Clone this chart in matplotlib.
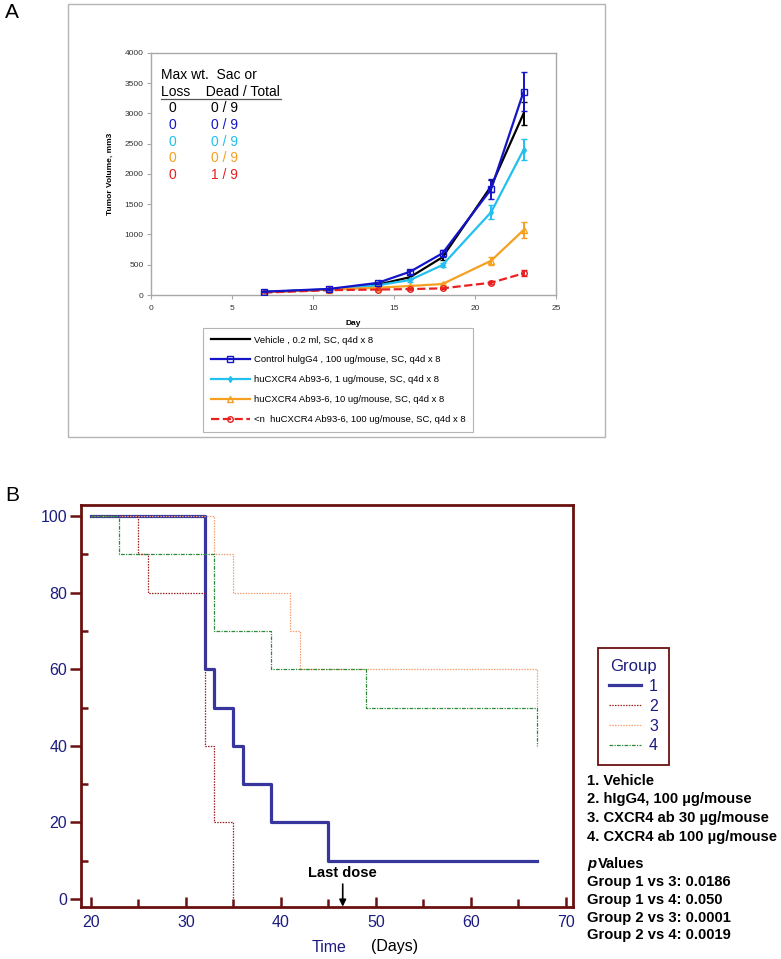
import matplotlib
matplotlib.use("Agg")
import matplotlib.pyplot as plt
from matplotlib.patches import Rectangle
from matplotlib.lines import Line2D
from matplotlib.ticker import MultipleLocator

plt.rcParams['font.family'] = ['Liberation Sans', 'DejaVu Sans']

# ---------------- Panel A data ----------------
days = [7, 11, 14, 16, 18, 21, 23]
vehicle = [50, 90, 170, 295, 625, 1800, 3000]
vehicle_err = [5, 10, 15, 30, 50, 100, 190]
control = [55, 100, 200, 385, 690, 1750, 3360]
control_err = [5, 10, 20, 35, 55, 160, 320]
ab1 = [50, 95, 160, 248, 496, 1370, 2400]
ab1_err = [5, 10, 15, 25, 40, 110, 175]
ab10 = [45, 90, 120, 149, 182, 567, 1074]
ab10_err = [5, 8, 10, 15, 20, 65, 125]
ab100 = [40, 80, 90, 98, 110, 203, 358]
ab100_err = [4, 8, 8, 10, 10, 25, 50]
labels_a = ["Vehicle , 0.2 ml, SC, q4d x 8",
            "Control hulgG4 , 100 ug/mouse, SC, q4d x 8",
            "huCXCR4 Ab93-6, 1 ug/mouse, SC, q4d x 8",
            "huCXCR4 Ab93-6, 10 ug/mouse, SC, q4d x 8",
            "<n  huCXCR4 Ab93-6, 100 ug/mouse, SC, q4d x 8"]
max_wt_loss = ["0", "0", "0", "0", "0"]
sac_dead = ["0 / 9", "0 / 9", "0 / 9", "0 / 9", "1 / 9"]

# ---------------- Panel B data ----------------
g1_t = [20, 32, 33, 35, 36, 39, 45, 67]
g1_s = [100, 60, 50, 40, 30, 20, 10, 10]
g2_t = [20, 25, 26, 32, 33, 35]
g2_s = [100, 90, 80, 40, 20, 0]
g3_t = [20, 33, 35, 41, 42, 67]
g3_s = [100, 90, 80, 70, 60, 50]
g4_t = [20, 23, 33, 39, 49, 67]
g4_s = [100, 90, 70, 60, 50, 40]
group_names = ["1", "2", "3", "4"]
group_desc = ["1. Vehicle", "2. hIgG4, 100 \u00b5g/mouse",
              "3. CXCR4 ab 30 \u00b5g/mouse", "4. CXCR4 ab 100 \u00b5g/mouse"]
pvals = ["Group 1 vs 3: 0.0186", "Group 1 vs 4: 0.050",
         "Group 2 vs 3: 0.0001", "Group 2 vs 4: 0.0019"]
last_dose_day = 46.5

W, H = 781, 959
fig = plt.figure(figsize=(W / 100, H / 100), dpi=100)


def fx(x):
    return x / W


def fy(y):
    return 1 - y / H


# ================= Panel A =================
fig.patches.append(Rectangle((fx(68), fy(437)), (605 - 68) / W, (437 - 4) / H,
                             transform=fig.transFigure, fill=False,
                             edgecolor='#b4b4b4', lw=1.0))
fig.text(fx(5), fy(13), "A", fontsize=15, va='center', ha='left')

axA = fig.add_axes([fx(150.7), fy(295), (556 - 150.7) / W, (295 - 53) / H])
axA.set_xlim(0, 25)
axA.set_ylim(0, 4000)
for s in axA.spines.values():
    s.set_color('#a8a8a8')
    s.set_linewidth(1.0)
axA.xaxis.set_major_locator(MultipleLocator(5))
axA.yaxis.set_major_locator(MultipleLocator(500))
axA.tick_params(axis='both', labelsize=6, color='#a8a8a8', length=3,
                width=0.8, labelcolor='#333333', pad=2)
axA.tick_params(axis='x', pad=4)
axA.set_xlabel("Day", fontsize=6, fontweight='bold', labelpad=6)
axA.set_ylabel("Tumor Volume, mm3", fontsize=6, fontweight='bold', labelpad=8)

colsA = ['#000000', '#1414c8', '#22c0f0', '#f5a020', '#e82020']
series = [(vehicle, vehicle_err), (control, control_err), (ab1, ab1_err),
          (ab10, ab10_err), (ab100, ab100_err)]
markers = [None, 's', 'd', '^', 'o']
mfcs = ['none', 'none', colsA[2], 'none', 'none']
styles = ['-', '-', '-', '-', '--']
handles = []
for i, ((vals, err), c) in enumerate(zip(series, colsA)):
    axA.errorbar(days, vals, yerr=err, color=c, lw=1.6, ls=styles[i],
                 marker=markers[i], ms=4 if i != 2 else 3,
                 mfc=mfcs[i], mec=c, mew=1.0, capsize=2.5, elinewidth=1.4,
                 capthick=1.2, zorder=3 + (1 if i == 1 else 0))
    handles.append(Line2D([], [], color=c, lw=1.6, ls=styles[i], marker=markers[i],
                          ms=4 if i != 2 else 3, mfc=mfcs[i], mec=c))

# Max wt loss table
fig.text(fx(161), fy(75), "Max wt.  Sac or", fontsize=10, va='center', ha='left')
fig.text(fx(161), fy(91.7), "Loss    Dead / Total", fontsize=10, va='center', ha='left')
fig.add_artist(Line2D([fx(161), fx(281)], [fy(98.5), fy(98.5)], color='#555555', lw=0.9))
for i, (a, b) in enumerate(zip(max_wt_loss, sac_dead)):
    yy = 108.3 + i * 16.7
    fig.text(fx(172), fy(yy), a, fontsize=10, color=colsA[i], ha='center', va='center')
    fig.text(fx(224.5), fy(yy), b, fontsize=10, color=colsA[i], ha='center', va='center')

legA = fig.legend(handles, labels_a, loc='upper left',
                  bbox_to_anchor=(fx(203), fy(328)), borderaxespad=0,
                  fontsize=6.8, handlelength=4.2, labelspacing=1.15, borderpad=0.8,
                  handletextpad=0.4, fancybox=False, edgecolor='#b4b4b4',
                  framealpha=1)
legA.get_frame().set_linewidth(0.8)

# ================= Panel B =================
fig.text(fx(5), fy(495), "B", fontsize=15, va='center', ha='left')
frame_c = '#6b1010'
navy = '#1c1c80'
axB = fig.add_axes([fx(81), fy(907), 492 / W, 402 / H])
axB.set_xlim(18.95, 70.74)
axB.set_ylim(-2.09, 102.9)
for s in axB.spines.values():
    s.set_color(frame_c)
    s.set_linewidth(2.0)
axB.xaxis.set_major_locator(MultipleLocator(10))
axB.xaxis.set_minor_locator(MultipleLocator(5))
axB.yaxis.set_major_locator(MultipleLocator(20))
axB.yaxis.set_minor_locator(MultipleLocator(10))
axB.tick_params(axis='x', which='major', direction='in', length=7, width=1.8,
                color=frame_c, labelsize=11.5, labelcolor=navy, pad=6)
axB.tick_params(axis='x', which='minor', direction='in', length=6, width=1.8,
                color=frame_c)
axB.tick_params(axis='y', which='major', direction='out', length=8, width=1.8,
                color=frame_c, labelsize=11.5, labelcolor=navy, pad=2)
axB.tick_params(axis='y', which='minor', direction='in', length=5, width=1.8,
                color=frame_c)

l1, = axB.step(g1_t, g1_s, where='post', color='#36369c', lw=2.3, zorder=2)
l2, = axB.step(g2_t, g2_s, where='post', color='#9a2020', lw=0.9, ls=(0, (1.2, 1.0)), zorder=3)
l3, = axB.step(g3_t, g3_s, where='post', color='#f4a070', lw=0.9, ls=(0, (1.2, 1.0)), zorder=3)
l4, = axB.step(g4_t, g4_s, where='post', color='#2e8b3a', lw=0.9, ls=(0, (3, 1, 1, 1)), zorder=3)

axB.annotate("Last dose", xy=(last_dose_day, -2.0), xytext=(last_dose_day, 6.8),
             ha='center', va='center', fontsize=10.5, fontweight='bold',
             arrowprops=dict(arrowstyle='-|>', color='black', lw=1.2,
                             mutation_scale=10, shrinkA=1, shrinkB=0))

fig.text(fx(329), fy(947), "Time", fontsize=11.5, color=navy, ha='center', va='center')
fig.text(fx(395), fy(947), "(Days)", fontsize=11.5, color='black', ha='center', va='center')

legB = fig.legend([l1, l2, l3, l4], group_names, loc='upper left',
                  bbox_to_anchor=(fx(598), fy(648)), borderaxespad=0, title="Group",
                  fontsize=11.5, title_fontsize=12, handlelength=2.0,
                  labelspacing=0.3, borderpad=0.7, handletextpad=0.5,
                  fancybox=False, edgecolor=frame_c, framealpha=1)
legB.get_frame().set_linewidth(1.3)
legB.get_title().set_color(navy)
for t in legB.get_texts():
    t.set_color(navy)

fs_r = 10.6
for i, d in enumerate(group_desc):
    fig.text(fx(587), fy(781 + i * 18.5), d, fontsize=fs_r, fontweight='bold',
             va='center', ha='left')
fig.text(fx(587.5), fy(864), "p", fontsize=fs_r, fontweight='bold', style='italic',
         va='center', ha='left')
fig.text(fx(598), fy(864), "Values", fontsize=fs_r, fontweight='bold',
         va='center', ha='left')
for i, p in enumerate(pvals):
    fig.text(fx(587), fy(882 + i * 17.8), p, fontsize=fs_r, fontweight='bold',
             va='center', ha='left')

fig.savefig("out.png", dpi=100)
